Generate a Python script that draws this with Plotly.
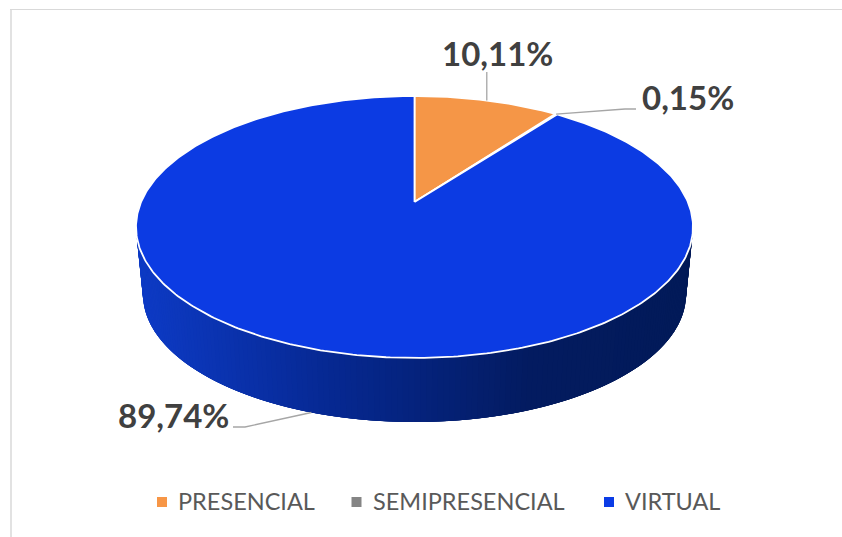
import numpy as np
import plotly.graph_objects as go

categories = ["PRESENCIAL", "SEMIPRESENCIAL", "VIRTUAL"]
values = [10.11, 0.15, 89.74]
labels = ["10,11%", "0,15%", "89,74%"]
slice_colors = ["#F59647", "#7F7F7F", "#0C3BE3"]
legend_colors = ["#F79646", "#858585", "#0B3CE6"]

# the 3d look: pixels of the page, the pie is seen in perspective
CX, CY = 414.5, 202
FX, FY, K = 273.4, 126.2, 0.1908
BOTTOM_SCALE, BOTTOM_Y = 0.975, 270


def project(theta, scale=1.0, y0=CY):
    u, v = np.sin(theta), np.cos(theta)
    return CX + scale * FX * u / (1 + K * v), y0 - scale * FY * v / (1 + K * v)


def lerp_color(t):
    stops = [(0.0, (13, 58, 196)), (0.32, (6, 40, 145)), (0.68, (3, 27, 96)), (1.0, (2, 26, 88))]
    for (t0, c0), (t1, c1) in zip(stops, stops[1:]):
        if t <= t1:
            f = (t - t0) / (t1 - t0)
            return "rgb(%d,%d,%d)" % tuple(round(a + (b - a) * f) for a, b in zip(c0, c1))
    return "rgb(2,26,88)"


fig = go.Figure()

# side wall of the pie, narrow strips for the gradient
# painted from right to left, each one runs under the next to hide the seams
edges = np.radians(np.linspace(85, 275, 191))
for a, b in zip(edges[:-1], edges[1:]):
    over = max(a - np.radians(3), edges[0])
    x1, y1 = project(np.array([over, b]))
    x2, y2 = project(np.array([b, over]), BOTTOM_SCALE, BOTTOM_Y)
    mid_x, _ = project((a + b) / 2, (1 + BOTTOM_SCALE) / 2)
    color = lerp_color(min(max((mid_x - 140) / 550, 0), 1))
    fig.add_trace(go.Scatter(
        x=list(x1) + list(x2), y=list(y1) + list(y2), mode="lines", fill="toself",
        fillcolor=color, line=dict(width=0), hoverinfo="skip", showlegend=False,
    ))

# top of the pie
shares = np.array(values) / sum(values)
ends = np.cumsum(shares) * 2 * np.pi
starts = ends - shares * 2 * np.pi
for name, start, end, color in zip(categories, starts, ends, slice_colors):
    theta = np.linspace(start, end, max(int((end - start) * 80), 3))
    x, y = project(theta)
    fig.add_trace(go.Scatter(
        x=[CX] + list(x) + [CX], y=[CY] + list(y) + [CY], mode="lines", fill="toself",
        fillcolor=color, line=dict(color="white", width=1.8), name=name, showlegend=False,
    ))

# leader lines start at the middle of each slice
mids = (starts + ends) / 2
lx, ly = project(mids[0])
fig.add_trace(go.Scatter(x=[lx, lx], y=[ly, 72], mode="lines", line=dict(color="#A6A6A6", width=1.3),
                         hoverinfo="skip", showlegend=False))
lx, ly = project(mids[1])
fig.add_trace(go.Scatter(x=[lx, 625, 636], y=[ly, 109, 109], mode="lines", line=dict(color="#A6A6A6", width=1.3),
                         hoverinfo="skip", showlegend=False))
lx, ly = project(mids[2], BOTTOM_SCALE, BOTTOM_Y)
fig.add_trace(go.Scatter(x=[lx, 245, 233], y=[ly, 427, 427], mode="lines", line=dict(color="#A6A6A6", width=1.3),
                         hoverinfo="skip", showlegend=False))

label_pos = [(497, 53), (688, 97), (173, 415)]
for text, (x, y) in zip(labels, label_pos):
    fig.add_annotation(x=x, y=y, text="<b>%s</b>" % text, showarrow=False, xanchor="center",
                       font=dict(family="Lato", size=33, color="#404040"))

# legend
legend_x = [162, 356.5, 609]
legend_text_x = [177, 371.5, 624]
for name, x, tx, color in zip(categories, legend_x, legend_text_x, legend_colors):
    fig.add_trace(go.Scatter(x=[x], y=[502], mode="markers", hoverinfo="skip", showlegend=False,
                             marker=dict(symbol="square", size=10, color=color)))
    fig.add_annotation(x=tx, y=501, text=name, showarrow=False, xanchor="left", xshift=-1,
                       font=dict(family="Lato", size=23.5, color="#595959"))

fig.update_layout(
    width=842, height=537, margin=dict(l=0, r=0, t=0, b=0),
    paper_bgcolor="white", plot_bgcolor="white", showlegend=False,
    xaxis=dict(range=[0, 842], visible=False),
    yaxis=dict(range=[537, 0], visible=False),
    shapes=[
        dict(type="line", x0=11, x1=11, y0=9, y1=537, line=dict(color="#E2E2E2", width=2)),
        dict(type="line", x0=10, x1=842, y0=9.5, y1=9.5, line=dict(color="#D9D9D9", width=1)),
    ],
)

# the browser's default body margin would push the figure by 8px
fig.write_html("out.html", config={"displayModeBar": False},
               post_script="document.body.style.margin='0';document.documentElement.style.overflow='hidden';")
